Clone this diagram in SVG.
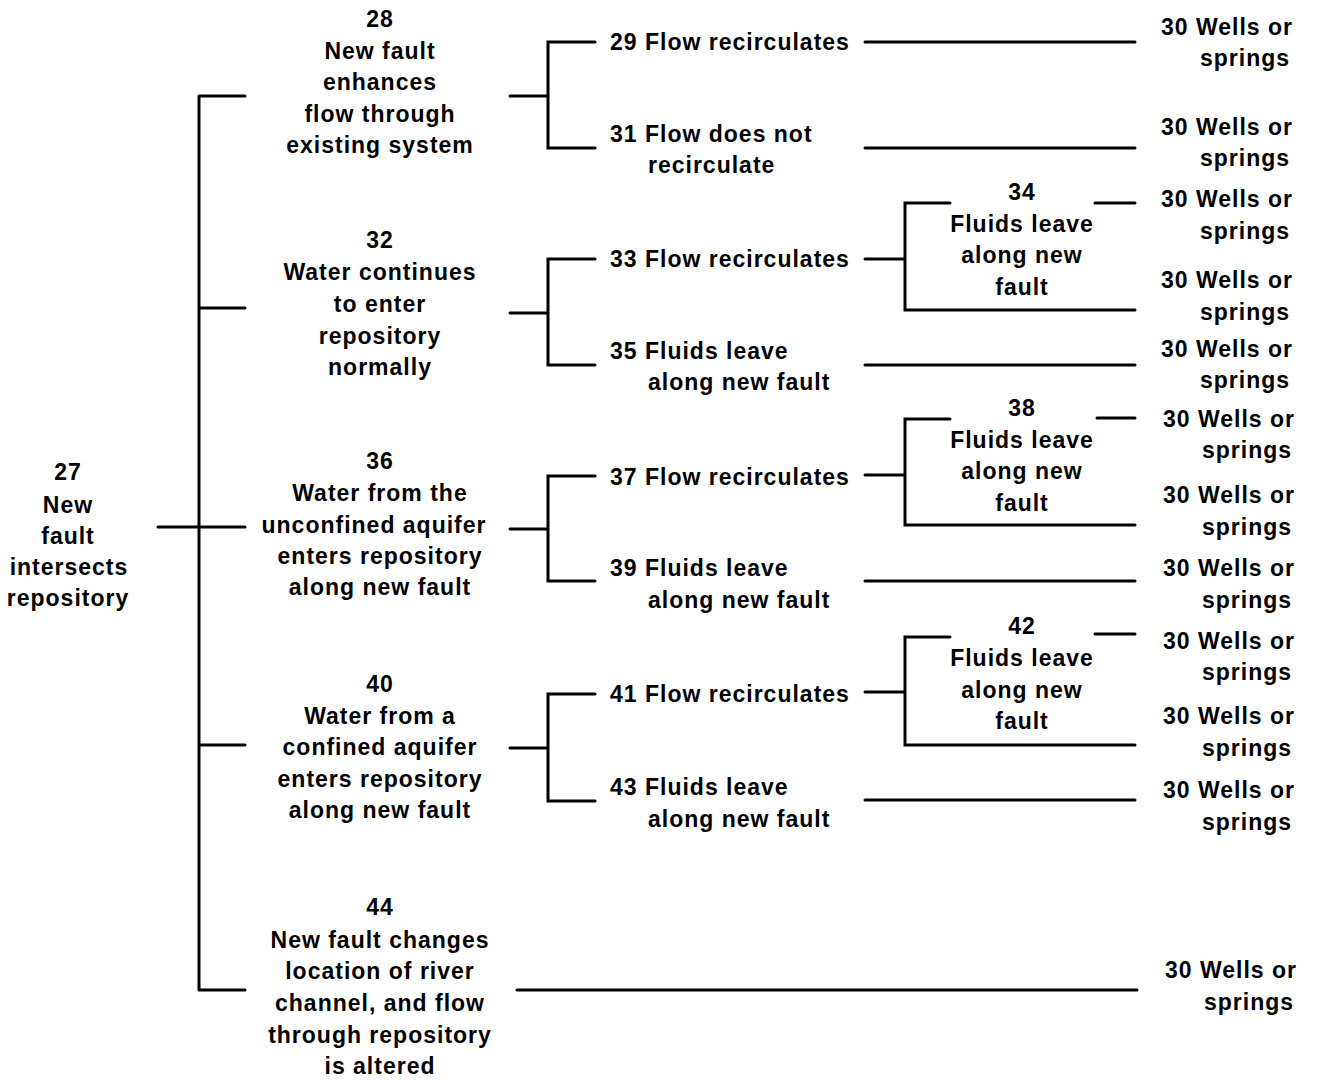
<svg xmlns="http://www.w3.org/2000/svg" width="1318" height="1080" viewBox="0 0 1318 1080">
<style>
text{font-family:"Liberation Sans",Arial,sans-serif;font-weight:bold;font-size:23px;letter-spacing:1px;fill:#000}
.c{text-anchor:middle}
.ln{fill:none;stroke:#000;stroke-width:3;stroke-linecap:round;stroke-linejoin:miter}
</style>
<rect width="1318" height="1080" fill="#fff"/>
<g id="connectors" class="ln">
<path d="M158,527 H199 M199,96 V990 M199,96 H245 M199,308 H245 M199,527 H245 M199,745 H245 M199,990 H245"/>
<path d="M510,96 H548 M595,42 H548 V148 H595"/>
<path d="M510,313 H548 M595,259 H548 V365 H595"/>
<path d="M510,529 H548 M595,476 H548 V581 H595"/>
<path d="M510,748 H548 M595,694 H548 V801 H595"/>
<path d="M865,42 H1135 M865,148 H1135"/>
<path d="M865,259 H905 M950,203 H905 V310 H1135 M1095,203 H1135 M865,365 H1135"/>
<path d="M865,475 H905 M950,419 H905 V525 H1135 M1097,418 H1135 M865,581 H1135"/>
<path d="M865,692 H905 M950,637 H905 V745 H1135 M1095,634 H1135 M865,800 H1135"/>
<path d="M517,990 H1137"/>
</g>
<g id="n27" class="c"><text x="68" y="480">27</text><text x="68" y="513">New</text><text x="68" y="544">fault</text><text x="69" y="575">intersects</text><text x="68" y="606">repository</text></g>
<g id="n28" class="c"><text x="380" y="27">28</text><text x="380" y="59">New fault</text><text x="380" y="90">enhances</text><text x="380" y="122">flow through</text><text x="380" y="153">existing system</text></g>
<g id="n32" class="c"><text x="380" y="248">32</text><text x="380" y="280">Water continues</text><text x="380" y="312">to enter</text><text x="380" y="344">repository</text><text x="380" y="375">normally</text></g>
<g id="n36" class="c"><text x="380" y="469">36</text><text x="380" y="501">Water from the</text><text x="374" y="533">unconfined aquifer</text><text x="380" y="564">enters repository</text><text x="380" y="595">along new fault</text></g>
<g id="n40" class="c"><text x="380" y="692">40</text><text x="380" y="724">Water from a</text><text x="380" y="755">confined aquifer</text><text x="380" y="787">enters repository</text><text x="380" y="818">along new fault</text></g>
<g id="n44" class="c"><text x="380" y="915">44</text><text x="380" y="948">New fault changes</text><text x="380" y="979">location of river</text><text x="380" y="1011">channel, and flow</text><text x="380" y="1043">through repository</text><text x="380" y="1074">is altered</text></g>
<g id="n29"><text x="610" y="50">29 Flow recirculates</text></g>
<g id="n31"><text x="610" y="142">31 Flow does not</text><text x="648" y="173">recirculate</text></g>
<g id="n33"><text x="610" y="267">33 Flow recirculates</text></g>
<g id="n35"><text x="610" y="359">35 Fluids leave</text><text x="648" y="390">along new fault</text></g>
<g id="n37"><text x="610" y="485">37 Flow recirculates</text></g>
<g id="n39"><text x="610" y="576">39 Fluids leave</text><text x="648" y="608">along new fault</text></g>
<g id="n41"><text x="610" y="702">41 Flow recirculates</text></g>
<g id="n43"><text x="610" y="795">43 Fluids leave</text><text x="648" y="827">along new fault</text></g>
<g id="n34" class="c"><text x="1022" y="200">34</text><text x="1022" y="232">Fluids leave</text><text x="1022" y="263">along new</text><text x="1022" y="295">fault</text></g>
<g id="n38" class="c"><text x="1022" y="416">38</text><text x="1022" y="448">Fluids leave</text><text x="1022" y="479">along new</text><text x="1022" y="511">fault</text></g>
<g id="n42" class="c"><text x="1022" y="634">42</text><text x="1022" y="666">Fluids leave</text><text x="1022" y="698">along new</text><text x="1022" y="729">fault</text></g>
<g id="w1"><text x="1161" y="35">30 Wells or</text><text x="1200" y="66">springs</text></g>
<g id="w2"><text x="1161" y="135">30 Wells or</text><text x="1200" y="166">springs</text></g>
<g id="w3"><text x="1161" y="207">30 Wells or</text><text x="1200" y="239">springs</text></g>
<g id="w4"><text x="1161" y="288">30 Wells or</text><text x="1200" y="320">springs</text></g>
<g id="w5"><text x="1161" y="357">30 Wells or</text><text x="1200" y="388">springs</text></g>
<g id="w6"><text x="1163" y="427">30 Wells or</text><text x="1202" y="458">springs</text></g>
<g id="w7"><text x="1163" y="503">30 Wells or</text><text x="1202" y="535">springs</text></g>
<g id="w8"><text x="1163" y="576">30 Wells or</text><text x="1202" y="608">springs</text></g>
<g id="w9"><text x="1163" y="649">30 Wells or</text><text x="1202" y="680">springs</text></g>
<g id="w10"><text x="1163" y="724">30 Wells or</text><text x="1202" y="756">springs</text></g>
<g id="w11"><text x="1163" y="798">30 Wells or</text><text x="1202" y="830">springs</text></g>
<g id="w12"><text x="1165" y="978">30 Wells or</text><text x="1204" y="1010">springs</text></g>
</svg>
